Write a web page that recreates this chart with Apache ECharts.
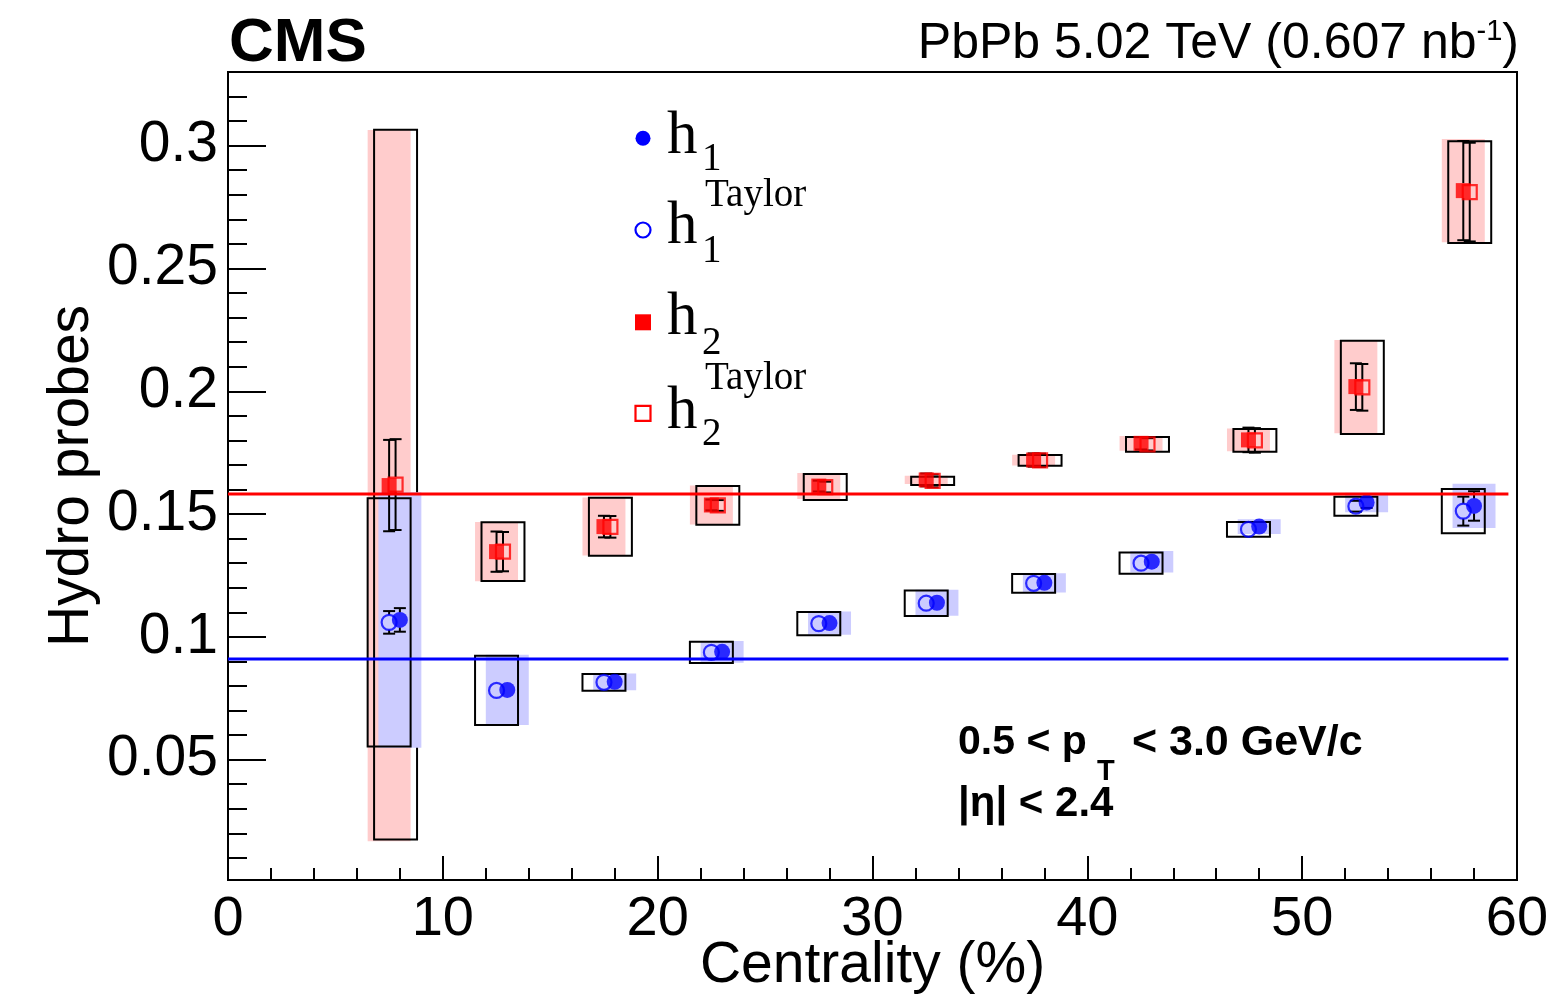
<!DOCTYPE html>
<html><head><meta charset="utf-8">
<script src="https://cdn.jsdelivr.net/npm/echarts@6/dist/echarts.min.js"></script>
<style>html,body{margin:0;padding:0;background:#fff}#c{width:1564px;height:999px}</style>
</head><body><div id="c"></div>
<script>
// ---- data ----
const centrality   = [7.5, 12.5, 17.5, 22.5, 27.5, 32.5, 37.5, 42.5, 47.5, 52.5, 57.5];
const h1           = [0.1069, 0.0784, 0.0817, 0.0939, 0.1056, 0.1139, 0.1220, 0.1306, 0.1449, 0.1547, 0.1533];
const h1Stat       = [0.0048, 0.0012, 0.0010, 0.0010, 0.0010, 0.0010, 0.0010, 0.0012, 0.0015, 0.0022, 0.0060];
const h1Sys        = [0.0520, 0.0143, 0.0034, 0.0044, 0.0047, 0.0053, 0.0039, 0.0044, 0.0030, 0.0040, 0.0090];
const h1Taylor     = [0.1059, 0.0782, 0.0815, 0.0937, 0.1054, 0.1137, 0.1218, 0.1300, 0.1438, 0.1532, 0.1512];
const h1TaylorStat = [0.0046, 0.0012, 0.0010, 0.0010, 0.0010, 0.0010, 0.0010, 0.0012, 0.0015, 0.0022, 0.0059];
const h1TaylorSys  = [0.0505, 0.0141, 0.0034, 0.0043, 0.0047, 0.0052, 0.0038, 0.0043, 0.0030, 0.0039, 0.0090];
const h2           = [0.1616, 0.1347, 0.1449, 0.1537, 0.1614, 0.1639, 0.1720, 0.1788, 0.1802, 0.2019, 0.2817];
const h2Stat       = [0.0186, 0.0082, 0.0044, 0.0022, 0.0022, 0.0026, 0.0027, 0.0025, 0.0050, 0.0095, 0.0202];
const h2Sys        = [0.1448, 0.0121, 0.0118, 0.0079, 0.0053, 0.0017, 0.0022, 0.0030, 0.0046, 0.0190, 0.0210];
const h2Taylor     = [0.1620, 0.1347, 0.1448, 0.1535, 0.1610, 0.1635, 0.1719, 0.1784, 0.1800, 0.2016, 0.2811];
const h2TaylorStat = [0.0185, 0.0080, 0.0044, 0.0022, 0.0022, 0.0026, 0.0027, 0.0025, 0.0050, 0.0095, 0.0201];
const h2TaylorSys  = [0.1445, 0.0120, 0.0118, 0.0079, 0.0053, 0.0017, 0.0022, 0.0030, 0.0046, 0.0190, 0.0207];
const h1Average    = 0.0910;
const h2Average    = 0.1582;
const averageRange = [0, 59.6];
const xTickLabels  = [0, 10, 20, 30, 40, 50, 60];
const yTickLabels  = [0.05, 0.1, 0.15, 0.2, 0.25, 0.3];
const yMinorTicks  = [0.01, 0.02, 0.03, 0.04, 0.06, 0.07, 0.08, 0.09, 0.11, 0.12, 0.13, 0.14,
                      0.16, 0.17, 0.18, 0.19, 0.21, 0.22, 0.23, 0.24, 0.26, 0.27, 0.28, 0.29, 0.31, 0.32];
const yRange       = [0.001, 0.33];

// ---- styling constants ----
const OFF = {h1: 0.5, h1T: 0.0, h2: 0.0, h2T: 0.3};
const HW = 1.0;            // half-width of systematic boxes (x units)
const MARK_R = 7.5;        // marker half size in px (error line hidden inside)
const SANS = 'Liberation Sans, Arial, Helvetica, sans-serif';
const SERIF = 'Liberation Serif, Times New Roman, serif';

function pts(xs, ys, es, off) { return xs.map((x, i) => [x + off, ys[i], es ? es[i] : 0]); }

function boxSeries(name, ys, sys, off, style, z) {
  return {
    type: 'custom', name, z, silent: true, clip: false,
    dimensions: ['x', 'y', 'e'], encode: {x: 0, y: 1},
    data: pts(centrality, ys, sys, off),
    renderItem(params, api) {
      const x = api.value(0), y = api.value(1), e = api.value(2);
      const p1 = api.coord([x - HW, y + e]);
      const p2 = api.coord([x + HW, y - e]);
      return {type: 'rect', shape: {x: p1[0], y: p1[1], width: p2[0] - p1[0], height: p2[1] - p1[1]}, style};
    }
  };
}
function errSeries(name, ys, st, off, z) {
  return {
    type: 'custom', name, z, silent: true, clip: false,
    dimensions: ['x', 'y', 'e'], encode: {x: 0, y: 1},
    data: pts(centrality, ys, st, off),
    renderItem(params, api) {
      const x = api.value(0), y = api.value(1), e = api.value(2);
      const c = api.coord([x, y]);
      const t = api.coord([x, y + e]), b = api.coord([x, y - e]);
      const epx = c[1] - t[1];
      const cw = 6, s = {stroke: '#000', lineWidth: 2};
      const ch = [];
      if (epx > MARK_R) {
        ch.push({type: 'line', shape: {x1: t[0], y1: t[1], x2: c[0], y2: c[1] - MARK_R}, style: s});
        ch.push({type: 'line', shape: {x1: b[0], y1: b[1], x2: c[0], y2: c[1] + MARK_R}, style: s});
      }
      if (epx > 4) {
        ch.push({type: 'line', shape: {x1: t[0] - cw, y1: t[1], x2: t[0] + cw, y2: t[1]}, style: s});
        ch.push({type: 'line', shape: {x1: b[0] - cw, y1: b[1], x2: b[0] + cw, y2: b[1]}, style: s});
      }
      return {type: 'group', children: ch};
    }
  };
}
function markerSeries(name, ys, off, symbol, size, itemStyle, z) {
  return {type: 'scatter', name, z, symbol, symbolSize: size, silent: true,
    data: pts(centrality, ys, null, off).map(p => [p[0], p[1]]), itemStyle};
}
function avgLine(name, v, color) {
  return {type: 'line', name, z: 20, symbol: 'none', silent: true,
    data: averageRange.map(x => [x, v]), lineStyle: {color, width: 3}};
}

const chart = echarts.init(document.getElementById('c'), null, {renderer: 'canvas'});
const axisLineStyle = {color: '#000', width: 2};
const option = {
  animation: false,
  backgroundColor: '#fff',
  grid: {left: 228, top: 72, width: 1289, height: 808, show: true, borderColor: '#000', borderWidth: 2,
         backgroundColor: 'transparent', containLabel: false, outerBoundsMode: 'none'},
  xAxis: {
    type: 'value', min: 0, max: 60, interval: 10,
    axisLine: {lineStyle: axisLineStyle},
    axisTick: {inside: true, length: 24, lineStyle: axisLineStyle},
    minorTick: {show: true, splitNumber: 5, length: 12, lineStyle: axisLineStyle},
    splitLine: {show: false},
    axisLabel: {fontFamily: SANS, fontSize: 56, color: '#000', margin: 12, hideOverlap: false,
      formatter: v => xTickLabels.includes(v) ? String(v) : ''},
    name: 'Centrality (%)', nameLocation: 'middle', nameGap: 58, nameMoveOverlap: false,
    nameTextStyle: {fontFamily: SANS, fontSize: 57, color: '#000'}
  },
  yAxis: [{
    type: 'value', min: yRange[0], max: yRange[1],
    axisLine: {lineStyle: axisLineStyle},
    axisTick: {inside: true, length: 38, lineStyle: axisLineStyle, customValues: yTickLabels},
    splitLine: {show: false},
    axisLabel: {fontFamily: SANS, fontSize: 57, color: '#000', margin: 10, hideOverlap: false,
      customValues: yTickLabels, formatter: v => String(+(+v).toFixed(2))},
    name: 'Hydro probes', nameLocation: 'middle', nameGap: 127, nameMoveOverlap: false,
    nameTextStyle: {fontFamily: SANS, fontSize: 57, color: '#000'}
  }, {
    type: 'value', min: yRange[0], max: yRange[1], position: 'left', offset: 0,
    axisLine: {show: false},
    axisTick: {inside: true, length: 19, lineStyle: axisLineStyle, customValues: yMinorTicks},
    splitLine: {show: false}, axisLabel: {show: false}
  }],
  series: [
    boxSeries('h2 sys', h2, h2Sys, OFF.h2, {fill: 'rgb(255,204,204)'}, 1),
    boxSeries('h2 Taylor sys', h2Taylor, h2TaylorSys, OFF.h2T, {fill: 'none', stroke: '#000', lineWidth: 2}, 2),
    boxSeries('h1 sys', h1, h1Sys, OFF.h1, {fill: 'rgb(204,204,255)'}, 3),
    boxSeries('h1 Taylor sys', h1Taylor, h1TaylorSys, OFF.h1T, {fill: 'none', stroke: '#000', lineWidth: 2}, 4),
    errSeries('h2 stat', h2, h2Stat, OFF.h2, 5),
    errSeries('h2 Taylor stat', h2Taylor, h2TaylorStat, OFF.h2T, 5),
    errSeries('h1 stat', h1, h1Stat, OFF.h1, 5),
    errSeries('h1 Taylor stat', h1Taylor, h1TaylorStat, OFF.h1T, 5),
    markerSeries('h1 Taylor', h1Taylor, OFF.h1T, 'circle', 15, {color: 'rgba(0,0,0,0)', borderColor: '#0000ff', borderWidth: 2.2}, 6),
    markerSeries('h1', h1, OFF.h1, 'circle', 16, {color: '#0000ff'}, 7),
    markerSeries('h2 Taylor', h2Taylor, OFF.h2T, 'rect', 14, {color: 'rgba(0,0,0,0)', borderColor: '#ff0000', borderWidth: 2.2}, 6),
    markerSeries('h2', h2, OFF.h2, 'rect', 15, {color: '#ff0000'}, 7),
    avgLine('h2 average', h2Average, '#ff0000'),
    avgLine('h1 average', h1Average, '#0000ff')
  ],
  graphic: [
    {type: 'text', x: 229, y: 43.5, style: {text: 'CMS', font: 'bold 62px ' + SANS, fill: '#000', textAlign: 'left', textVerticalAlign: 'middle'}},
    {type: 'text', x: 1519, y: 43, style: {
      text: '{a|PbPb 5.02 TeV (0.607 nb}{s|-1}{a|)}', textAlign: 'right', textVerticalAlign: 'middle',
      rich: {a: {font: '50px ' + SANS, fill: '#000', lineHeight: 52, verticalAlign: 'bottom'},
             s: {font: '29px ' + SANS, fill: '#000', lineHeight: 52, verticalAlign: 'top'}}}},
    // annotation
    {type: 'text', x: 958, y: 743, style: {text: '0.5 < p', font: 'bold 41px ' + SANS, fill: '#000', textVerticalAlign: 'middle'}},
    {type: 'text', x: 1097, y: 772, style: {text: 'T', font: 'bold 29px ' + SANS, fill: '#000', textVerticalAlign: 'middle'}},
    {type: 'text', x: 1120, y: 743, style: {text: ' < 3.0 GeV/c', font: 'bold 43px ' + SANS, fill: '#000', textVerticalAlign: 'middle'}},
    {type: 'text', x: 958, y: 804.5, style: {text: '|η| < 2.4', font: 'bold 42px ' + SANS, fill: '#000', textVerticalAlign: 'middle'}},
    // legend
    {type: 'circle', shape: {cx: 643, cy: 138.3, r: 7.5}, style: {fill: '#0000ff'}},
    {type: 'circle', shape: {cx: 643, cy: 230, r: 7.5}, style: {fill: 'none', stroke: '#0000ff', lineWidth: 2.2}},
    {type: 'rect', shape: {x: 635, y: 314.3, width: 16, height: 16}, style: {fill: '#ff0000'}},
    {type: 'rect', shape: {x: 635.5, y: 405.8, width: 15, height: 15}, style: {fill: 'none', stroke: '#ff0000', lineWidth: 2.2}},

    {type: 'text', x: 667, y: 136.5, style: {text: 'h', font: '61px ' + SERIF, fill: '#000', textVerticalAlign: 'middle'}},
    {type: 'text', x: 702, y: 159.5, style: {text: '1', font: '39px ' + SERIF, fill: '#000', textVerticalAlign: 'middle'}},

    {type: 'text', x: 705, y: 196.1, style: {text: 'Taylor', font: '39px ' + SERIF, fill: '#000', textVerticalAlign: 'middle'}},
    {type: 'text', x: 667, y: 226.5, style: {text: 'h', font: '61px ' + SERIF, fill: '#000', textVerticalAlign: 'middle'}},
    {type: 'text', x: 702, y: 251.8, style: {text: '1', font: '39px ' + SERIF, fill: '#000', textVerticalAlign: 'middle'}},

    {type: 'text', x: 667, y: 318.1, style: {text: 'h', font: '61px ' + SERIF, fill: '#000', textVerticalAlign: 'middle'}},
    {type: 'text', x: 702, y: 343.5, style: {text: '2', font: '39px ' + SERIF, fill: '#000', textVerticalAlign: 'middle'}},

    {type: 'text', x: 705, y: 378.5, style: {text: 'Taylor', font: '39px ' + SERIF, fill: '#000', textVerticalAlign: 'middle'}},
    {type: 'text', x: 667, y: 411.5, style: {text: 'h', font: '61px ' + SERIF, fill: '#000', textVerticalAlign: 'middle'}},
    {type: 'text', x: 702, y: 435.1, style: {text: '2', font: '39px ' + SERIF, fill: '#000', textVerticalAlign: 'middle'}}
  ]
};
chart.setOption(option);
</script>
</body></html>
